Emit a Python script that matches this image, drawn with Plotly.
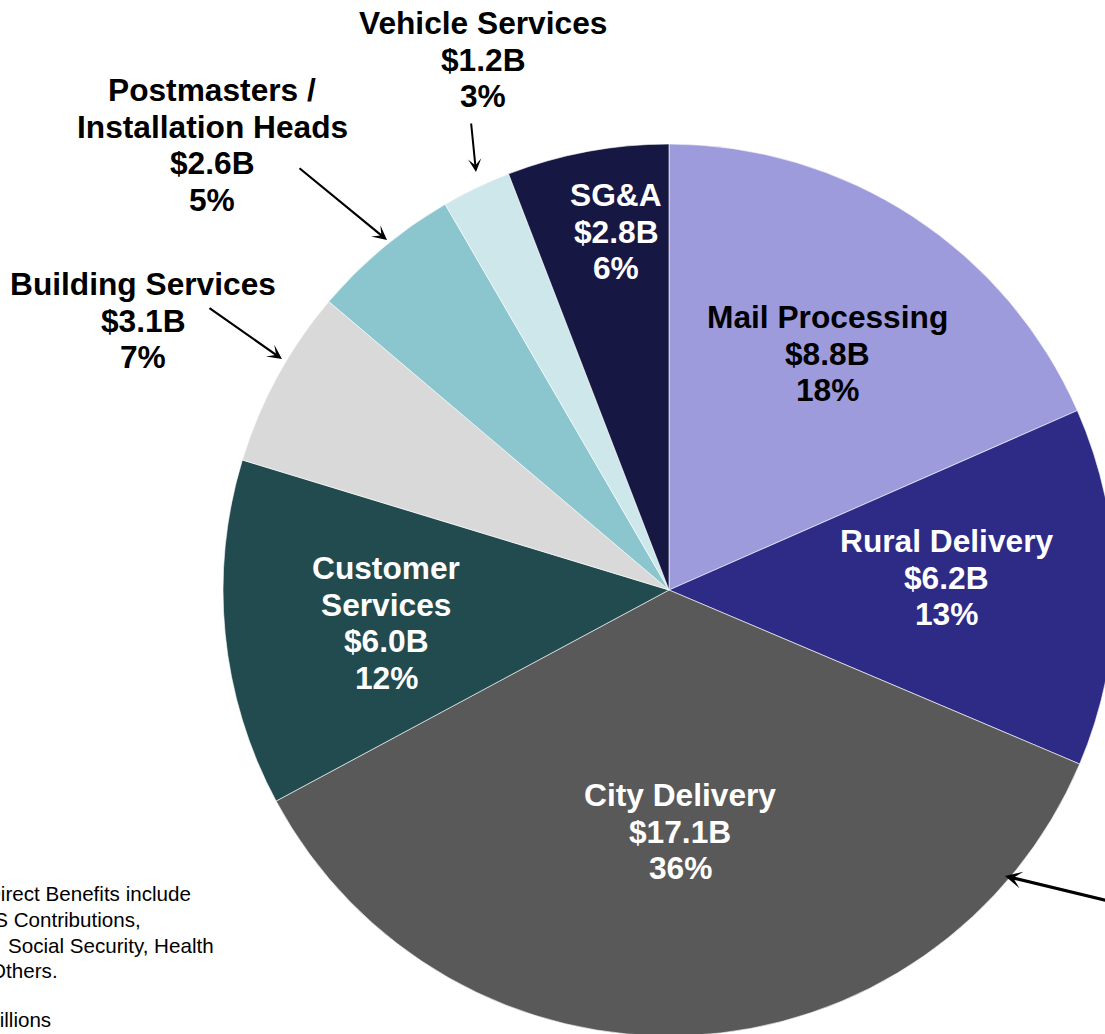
import plotly.graph_objects as go

# ---- data ----
categories = ["Mail Processing", "Rural Delivery", "City Delivery", "Customer Services",
              "Building Services", "Postmasters / Installation Heads", "Vehicle Services", "SG&A"]
values = [8.8, 6.2, 17.1, 6.0, 3.1, 2.6, 1.2, 2.8]
pct_labels = ["18%", "13%", "36%", "12%", "7%", "5%", "3%", "6%"]
name_lines = [["Mail Processing"], ["Rural Delivery"], ["City Delivery"], ["Customer", "Services"],
              ["Building Services"], ["Postmasters /", "Installation Heads"], ["Vehicle Services"], ["SG&A"]]
footnote_lines = ["Direct Benefits include", "FERS Contributions,", "Social Security, Health",
                  "and Others.", "$ in Billions"]

# ---- styles / layout ----
colors = ["#9E9BDD", "#2E2B87", "#595959", "#224B50", "#D9D9D9", "#8BC5CE", "#CDE7EA", "#171744"]
text_colors = ["black", "white", "white", "white", "black", "black", "black", "white"]
# first-line centre (x, y) in pixels for each label
label_pos = [(827, 317), (946, 541), (680, 795), (386, 568), (143, 284), (212, 90), (483, 23), (616, 195)]
line_gap = 36.6
FONT = "Liberation Sans, Arial, sans-serif"
FS = 31.7

W, H = 1125, 1050
cx, cy, r = 669, 590, 446


def px(x):
    return x / W


def py(y):
    return 1 - y / H


fig = go.Figure(go.Pie(
    labels=categories, values=values, sort=False, direction="clockwise", rotation=0,
    marker=dict(colors=colors, line=dict(color="white", width=0.6)),
    textinfo="none", hoverinfo="label+value+percent", showlegend=False,
    domain=dict(x=[px(cx - r), px(cx + r)], y=[py(cy + r), py(cy - r)]),
))

annotations = []
for i, cat in enumerate(categories):
    lines = name_lines[i] + [f"${values[i]:.1f}B", pct_labels[i]]
    x0, y0 = label_pos[i]
    for k, t in enumerate(lines):
        annotations.append(dict(
            x=px(x0), y=py(y0 + k * line_gap), xref="paper", yref="paper",
            text=f"<b>{t}</b>", showarrow=False, xanchor="center", yanchor="middle",
            font=dict(family=FONT, size=FS, color=text_colors[i])))

# arrows: (head x, head y, tail x, tail y, width, size)
arrows = [(476, 172, 471, 122, 2.0, 1.1), (387, 240, 298, 167, 2.2, 1.1),
          (282, 359, 208, 307, 2.2, 1.1), (1005, 876, 1140, 905, 3.3, 0.85)]
for hx, hy, tx, ty, aw, asz in arrows:
    annotations.append(dict(
        x=px(hx), y=py(hy), xref="paper", yref="paper", text="", showarrow=True,
        ax=tx - hx, ay=ty - hy, arrowhead=3, arrowsize=asz, arrowwidth=aw,
        arrowcolor="black", standoff=0))

# footnote (partially cut off at the left edge, as in the reference)
foot_right = [193, 143, 216, 60, 53]
foot_y = [893, 919, 945, 970, 1019]
for t, xr, yy in zip(footnote_lines, foot_right, foot_y):
    annotations.append(dict(
        x=px(xr), y=py(yy), xref="paper", yref="paper", text=t, showarrow=False,
        xanchor="right", yanchor="middle", font=dict(family=FONT, size=20.6, color="black")))

fig.update_layout(
    width=W, height=H, margin=dict(l=0, r=0, t=0, b=0),
    paper_bgcolor="white", plot_bgcolor="white", annotations=annotations,
)

fig.write_html("out.html", config={"displayModeBar": False},
               post_script="document.body.style.margin='0';"
                           "document.body.style.overflow='hidden';"
                           "document.documentElement.style.overflow='hidden';")
